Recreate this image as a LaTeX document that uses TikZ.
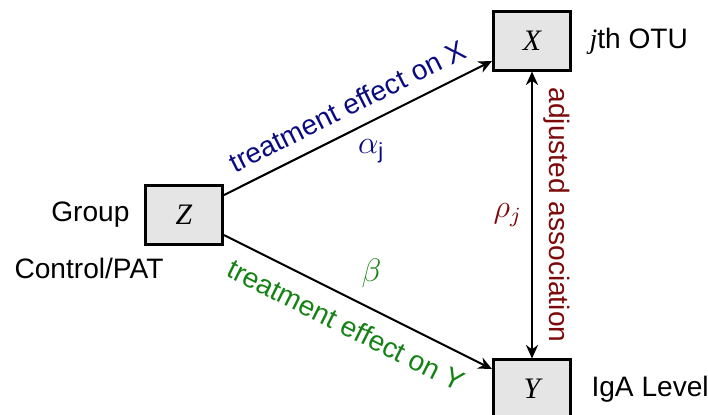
\documentclass[tikz,border=0pt]{standalone}
\usepackage{fontspec}
\setmainfont{Liberation Sans}
\newfontfamily\serifit{Liberation Serif}
\usetikzlibrary{arrows.meta}
\definecolor{navyc}{RGB}{10,10,130}
\definecolor{greenc}{RGB}{20,130,20}
\definecolor{redc}{RGB}{125,10,10}
\tikzset{
  varbox/.style={draw=black, line width=1.1pt, fill=black!10, minimum width=28.5pt, minimum height=21.5pt, inner sep=0pt, font=\fontsize{11}{13}\selectfont\serifit\itshape},
  conn/.style={line width=0.75pt, -{Stealth[length=5pt,width=4.5pt]}},
  lbl/.style={inner sep=0pt},
  mlbl/.style={font=\fontsize{11.5}{13}\selectfont}
}
\begin{document}
\begin{tikzpicture}[x=0.37pt,y=-0.37pt, font=\fontsize{10.4}{12}\selectfont]
\useasboundingbox (0,0) rectangle (708,414);
\node[varbox] (Z) at (184,215) {Z};
\node[varbox] (X) at (532,41) {X};
\node[varbox] (Y) at (532,389) {Y};
\node[lbl, anchor=east] (group) at (130,215) {Group};
\node[lbl] (ctrl) at (89,268) {Control/PAT};
\node[lbl, anchor=west] (otu) at (589,41) {{\serifit\itshape j}th OTU};
\node[lbl, anchor=west] (iga) at (591,389) {IgA Level};
\draw[conn] (Z) -- node[pos=0.50, sloped, above=1.5pt, text=navyc] {treatment effect on X}
  node[mlbl, pos=0.55, below=3pt, text=navyc] {$\alpha_{\mathrm{j}}$} (X);
\draw[conn] (Z) -- node[mlbl, pos=0.55, above=4pt, text=greenc] {$\beta$}
  node[pos=0.50, sloped, below=2pt, text=greenc] {treatment effect on Y} (Y);
\draw[conn, {Stealth[length=5pt,width=4.5pt]}-{Stealth[length=5pt,width=4.5pt]}] (X) -- node[pos=0.5, sloped, above=0.5pt, text=redc] {adjusted association}
  node[mlbl, pos=0.5, left=0pt, text=redc] {$\rho_j$} (Y);
\end{tikzpicture}
\end{document}
